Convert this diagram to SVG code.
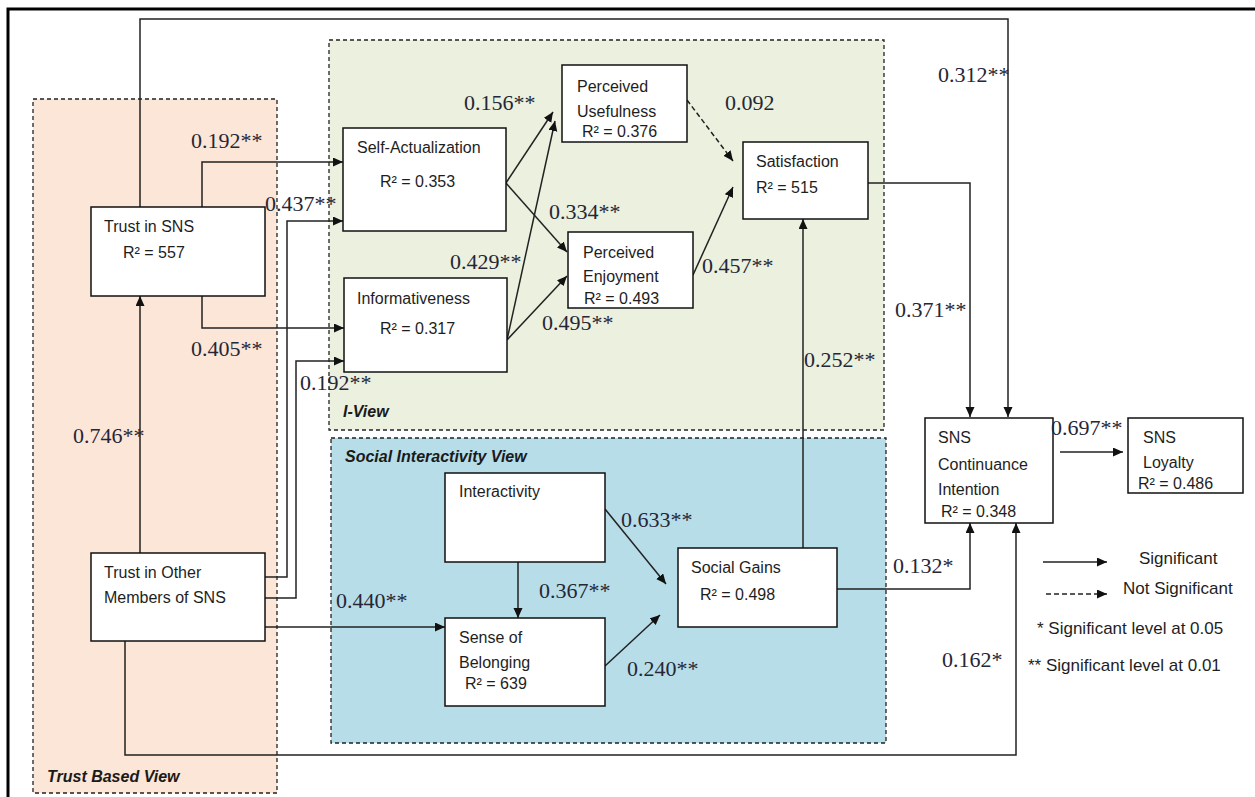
<svg xmlns="http://www.w3.org/2000/svg" width="1255" height="797" viewBox="0 0 1255 797">
<style>
.region{stroke:#222;stroke-width:1.3;stroke-dasharray:4 3}
.node rect{fill:#fff;stroke:#111;stroke-width:1.5}
.nt{font-family:"Liberation Sans",Arial,sans-serif;font-size:16px;fill:#1e1e1e}
.lt{font-family:"Liberation Sans",Arial,sans-serif;font-size:17px;fill:#1e1e1e}
.rl{font-family:"Liberation Sans",Arial,sans-serif;font-size:16px;font-weight:bold;font-style:italic;fill:#1a1a1a}
.num{font-family:"Liberation Serif","Times New Roman",serif;font-size:22px;fill:#262636}
.c{fill:none;stroke:#222;stroke-width:1.5;marker-end:url(#ah)}
.d{stroke-dasharray:5 3}
</style>
<defs>
<marker id="ah" markerUnits="userSpaceOnUse" markerWidth="11" markerHeight="10" refX="10" refY="4.5" orient="auto">
<path d="M0,0 L10,4.5 L0,9 z" fill="#111"/>
</marker>
</defs>
<rect width="1255" height="797" fill="#fff"/>
<g id="regions">
<rect class="region" x="33" y="99" width="244" height="694" fill="#FCE6D7"/>
<rect class="region" x="329" y="40" width="555" height="390" fill="#EBF1DE"/>
<rect class="region" x="331" y="438" width="555" height="305" fill="#B7DDE8"/>
<text class="rl" x="47" y="782">Trust Based View</text>
<text class="rl" x="343" y="417">I-View</text>
<text class="rl" x="345" y="462">Social Interactivity View</text>
</g>
<path d="M8,797 V9 H1255" fill="none" stroke="#000" stroke-width="3"/>
<g id="connectors">
<path class="c" d="M140,207 V19 H1008 V417"/>
<path class="c" d="M202,207 V162 H343"/>
<path class="c" d="M202,296 V328 H344"/>
<path class="c" d="M265,577 H287 V221 H343"/>
<path class="c" d="M265,598 H296 V361 H344"/>
<path class="c" d="M265,627 H445"/>
<path class="c" d="M125,641 V755 H1016 V523"/>
<path class="c" d="M140,553 V296"/>
<path class="c" d="M506,183 L553,112"/>
<path class="c" d="M506,183 L567,252"/>
<path class="c" d="M507,340 L555,121"/>
<path class="c" d="M507,340 L567,276"/>
<path class="c d" d="M687,100 L733,161"/>
<path class="c" d="M693,275 L733,187"/>
<path class="c" d="M868,183 H970 V417"/>
<path class="c" d="M803,548 V219"/>
<path class="c" d="M837,589 H970 V523"/>
<path class="c" d="M1060,452 H1123"/>
<path class="c" d="M518,562 V618"/>
<path class="c" d="M605,509 L666,584"/>
<path class="c" d="M605,666 L660,615"/>
<path class="c" d="M1043,562 H1107"/>
<path class="c d" d="M1046,594 H1107"/>
</g>
<g id="trust-sns" class="node"><rect x="91" y="207" width="174" height="89"/><text class="nt" x="104" y="232">Trust in SNS</text><text class="nt" x="123" y="258">R² = 557</text></g>
<g id="trust-other" class="node"><rect x="91" y="553" width="174" height="88"/><text class="nt" x="104" y="578">Trust in Other</text><text class="nt" x="104" y="603">Members of SNS</text></g>
<g id="self-act" class="node"><rect x="343" y="128" width="163" height="103"/><text class="nt" x="357" y="153">Self-Actualization</text><text class="nt" x="380" y="187">R² = 0.353</text></g>
<g id="inform" class="node"><rect x="344" y="278" width="163" height="94"/><text class="nt" x="357" y="304">Informativeness</text><text class="nt" x="380" y="334">R² = 0.317</text></g>
<g id="usefulness" class="node"><rect x="562" y="65" width="125" height="77"/><text class="nt" x="577" y="92">Perceived</text><text class="nt" x="577" y="117">Usefulness</text><text class="nt" x="582" y="137">R² = 0.376</text></g>
<g id="enjoyment" class="node"><rect x="568" y="232" width="125" height="76"/><text class="nt" x="583" y="258">Perceived</text><text class="nt" x="583" y="282">Enjoyment</text><text class="nt" x="584" y="304">R² = 0.493</text></g>
<g id="satisfaction" class="node"><rect x="743" y="142" width="125" height="77"/><text class="nt" x="756" y="167">Satisfaction</text><text class="nt" x="756" y="193">R² = 515</text></g>
<g id="interactivity" class="node"><rect x="445" y="473" width="160" height="89"/><text class="nt" x="459" y="497">Interactivity</text></g>
<g id="belonging" class="node"><rect x="445" y="618" width="160" height="88"/><text class="nt" x="459" y="643">Sense of</text><text class="nt" x="459" y="668">Belonging</text><text class="nt" x="465" y="689">R² = 639</text></g>
<g id="social-gains" class="node"><rect x="678" y="548" width="159" height="79"/><text class="nt" x="691" y="573">Social Gains</text><text class="nt" x="700" y="600">R² = 0.498</text></g>
<g id="continuance" class="node"><rect x="925" y="418" width="128" height="105"/><text class="nt" x="938" y="443">SNS</text><text class="nt" x="938" y="470">Continuance</text><text class="nt" x="938" y="495">Intention</text><text class="nt" x="941" y="517">R² = 0.348</text></g>
<g id="loyalty" class="node"><rect x="1128" y="418" width="115" height="75"/><text class="nt" x="1143" y="443">SNS</text><text class="nt" x="1143" y="468">Loyalty</text><text class="nt" x="1138" y="489">R² = 0.486</text></g>
<g id="labels">
<text class="num" x="191" y="148">0.192**</text>
<text class="num" x="265" y="211">0.437**</text>
<text class="num" x="191" y="356">0.405**</text>
<text class="num" x="300" y="390">0.192**</text>
<text class="num" x="73" y="443">0.746**</text>
<text class="num" x="464" y="110">0.156**</text>
<text class="num" x="725" y="110">0.092</text>
<text class="num" x="549" y="219">0.334**</text>
<text class="num" x="450" y="269">0.429**</text>
<text class="num" x="702" y="273">0.457**</text>
<text class="num" x="542" y="330">0.495**</text>
<text class="num" x="938" y="82">0.312**</text>
<text class="num" x="895" y="317">0.371**</text>
<text class="num" x="804" y="367">0.252**</text>
<text class="num" x="621" y="527">0.633**</text>
<text class="num" x="539" y="598">0.367**</text>
<text class="num" x="336" y="608">0.440**</text>
<text class="num" x="627" y="676">0.240**</text>
<text class="num" x="893" y="573">0.132*</text>
<text class="num" x="1051" y="435">0.697**</text>
<text class="num" x="942" y="667">0.162*</text>
</g>
<g id="legend">
<text class="lt" x="1139" y="564">Significant</text>
<text class="lt" x="1123" y="594">Not Significant</text>
<text class="lt" x="1037" y="634">* Significant level at 0.05</text>
<text class="lt" x="1028" y="671">** Significant level at 0.01</text>
</g>
</svg>
